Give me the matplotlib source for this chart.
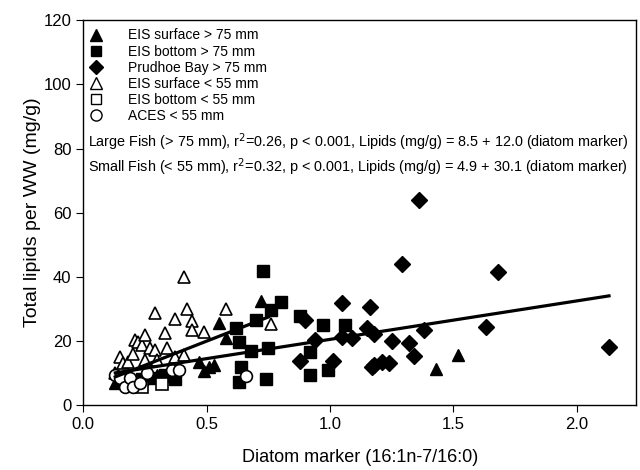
import matplotlib
matplotlib.use('Agg')
from matplotlib import pyplot
from matplotlib.lines import Line2D

pyplot.rcParams['font.family'] = ['Liberation Sans', 'DejaVu Sans']

# EIS surface > 75 mm (filled triangles)
surf_big_x = [0.13, 0.16, 0.30, 0.36, 0.47, 0.49, 0.51, 0.53, 0.55, 0.58, 0.72, 1.43, 1.52]
surf_big_y = [7.0, 8.0, 9.5, 9.0, 13.5, 10.5, 12.0, 12.5, 25.5, 21.0, 32.5, 11.4, 15.6]

# EIS bottom > 75 mm (filled squares)
bot_big_x = [0.24, 0.27, 0.33, 0.37, 0.62, 0.63, 0.64, 0.63, 0.68, 0.70, 0.73, 0.75, 0.74,
             0.76, 0.80, 0.88, 0.92, 0.92, 0.97, 0.99, 1.06]
bot_big_y = [8.0, 8.5, 9.5, 8.3, 24.0, 19.7, 12.0, 7.3, 17.0, 26.5, 41.8, 17.7, 8.3,
             29.8, 32.0, 27.8, 16.6, 9.3, 24.9, 11.0, 24.9]

# Prudhoe Bay > 75 mm (filled diamonds)
prud_x = [0.88, 0.90, 0.94, 1.01, 1.05, 1.05, 1.09, 1.15, 1.16, 1.18, 1.17, 1.18, 1.21,
          1.24, 1.25, 1.29, 1.32, 1.34, 1.36, 1.38, 1.63, 1.68, 2.13]
prud_y = [13.8, 26.5, 20.2, 13.8, 31.7, 21.3, 20.8, 23.9, 30.6, 22.3, 11.9, 12.5, 13.4,
          13.2, 20.0, 44.1, 19.5, 15.3, 63.9, 23.4, 24.4, 41.5, 18.2]

# EIS surface < 55 mm (open triangles)
surf_small_x = [0.13, 0.15, 0.16, 0.18, 0.20, 0.21, 0.22, 0.24, 0.25, 0.25, 0.27, 0.29, 0.29,
                0.30, 0.33, 0.34, 0.37, 0.37, 0.41, 0.41, 0.42, 0.44, 0.44, 0.49, 0.58, 0.76]
surf_small_y = [10.0, 15.0, 13.0, 13.5, 16.0, 20.2, 19.7, 18.7, 21.8, 14.0, 17.7, 28.6, 17.1,
                14.0, 22.5, 17.7, 26.8, 15.0, 40.0, 15.6, 30.0, 26.1, 23.4, 22.8, 30.0, 25.4]

# EIS bottom < 55 mm (open squares)
bot_small_x = [0.20, 0.24, 0.32]
bot_small_y = [7.0, 5.8, 6.5]

# ACES < 55 mm (open circles)
aces_x = [0.13, 0.15, 0.17, 0.19, 0.20, 0.23, 0.26, 0.36, 0.39, 0.66]
aces_y = [9.3, 8.5, 5.7, 8.5, 5.7, 7.0, 10.0, 11.0, 10.9, 9.0]

# regressions
large_a, large_b = 8.5, 12.0
large_range = [0.13, 2.13]
small_a, small_b = 4.9, 30.1
small_range = [0.13, 0.75]

fig = pyplot.figure(figsize=(6.4, 4.7), dpi=100)
ax = fig.add_axes([0.13, 0.138, 0.864, 0.819])

ax.plot(surf_big_x, surf_big_y, '^', color='k', ms=9, ls='none')
ax.plot(bot_big_x, bot_big_y, 's', color='k', ms=8, ls='none')
ax.plot(prud_x, prud_y, 'D', color='k', ms=8, ls='none')
ax.plot(surf_small_x, surf_small_y, '^', mfc='white', mec='k', mew=1.2, ms=9, ls='none')
ax.plot(bot_small_x, bot_small_y, 's', mfc='white', mec='k', mew=1.2, ms=8, ls='none')
ax.plot(aces_x, aces_y, 'o', mfc='white', mec='k', mew=1.2, ms=8.5, ls='none')

ax.plot(large_range, [large_a + large_b * v for v in large_range], 'k-', lw=2.3)
ax.plot(small_range, [small_a + small_b * v for v in small_range], 'k-', lw=2.3)

handles = [
    Line2D([], [], marker='^', color='k', ls='none', ms=8),
    Line2D([], [], marker='s', color='k', ls='none', ms=7),
    Line2D([], [], marker='D', color='k', ls='none', ms=7),
    Line2D([], [], marker='^', mfc='white', mec='k', ls='none', ms=8),
    Line2D([], [], marker='s', mfc='white', mec='k', ls='none', ms=7),
    Line2D([], [], marker='o', mfc='white', mec='k', ls='none', ms=8),
]
labels = ['EIS surface > 75 mm', 'EIS bottom > 75 mm', 'Prudhoe Bay > 75 mm',
          'EIS surface < 55 mm', 'EIS bottom < 55 mm', 'ACES < 55 mm']
ax.legend(handles, labels, loc='upper left', frameon=False, fontsize=10,
          handlelength=1.0, handletextpad=1.8, labelspacing=0.15,
          borderaxespad=0.0, borderpad=0.4, bbox_to_anchor=(0.0, 0.993))

ax.text(0.02, 82.0, 'Large Fish (> 75 mm), r$^2$=0.26, p < 0.001, Lipids (mg/g) = 8.5 + 12.0 (diatom marker)',
        fontsize=10.4, va='center')
ax.text(0.02, 74.3, 'Small Fish (< 55 mm), r$^2$=0.32, p < 0.001, Lipids (mg/g) = 4.9 + 30.1 (diatom marker)',
        fontsize=10.4, va='center')

ax.set_xlim(0, 2.24)
ax.set_ylim(0, 120)
ax.set_xticks([0.0, 0.5, 1.0, 1.5, 2.0])
ax.set_yticks([0, 20, 40, 60, 80, 100, 120])
ax.tick_params(direction='out', length=5, labelsize=12, top=False, right=False)
for s in ax.spines.values():
    s.set_linewidth(1.0)
ax.set_xlabel('Diatom marker (16:1n-7/16:0)', fontsize=13, labelpad=12)
ax.set_ylabel('Total lipids per WW (mg/g)', fontsize=14, labelpad=2)

fig.savefig('out.png', dpi=100)
